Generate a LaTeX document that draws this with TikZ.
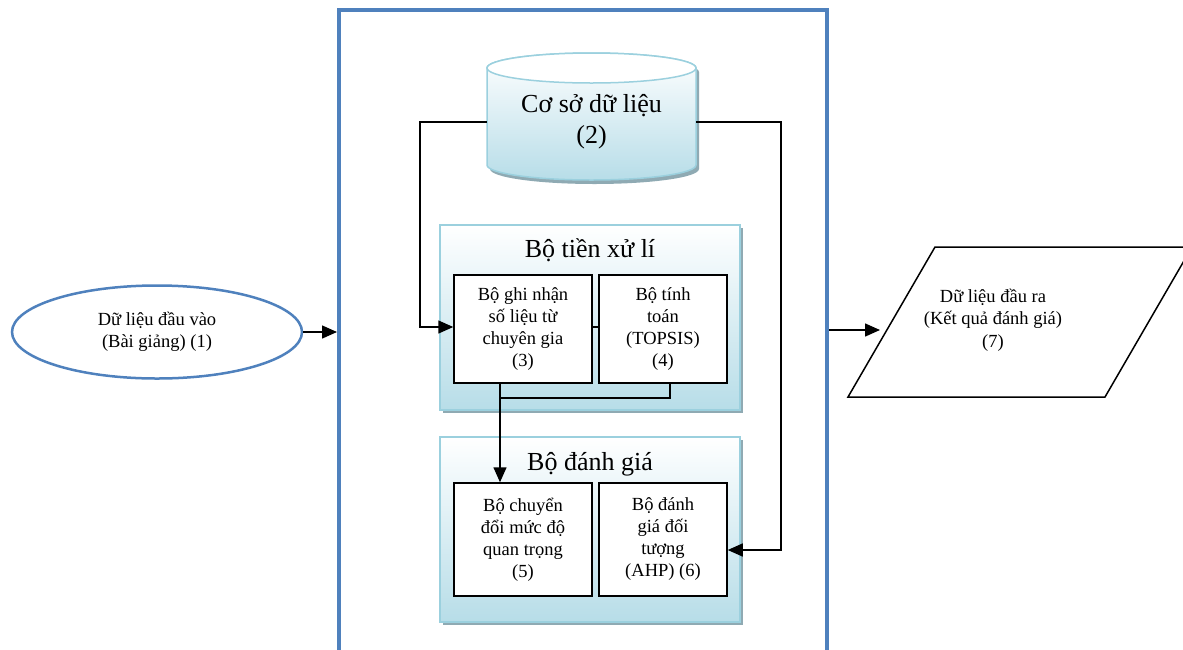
\documentclass[tikz,border=0pt]{standalone}
\usepackage{fontspec}
\setmainfont{Liberation Serif}
\usetikzlibrary{arrows.meta,shapes.geometric,shadows}
\definecolor{frameblue}{HTML}{4F81BD}
\definecolor{panelblue}{HTML}{B7DDE8}
\definecolor{panelborder}{HTML}{9BD0DE}
\definecolor{shadowgray}{HTML}{8FAAB3}
\tikzset{
  arr/.style={line width=1.5pt,-{Triangle[length=15pt,width=13pt]}},
  conn/.style={line width=1.5pt},
  panel/.style={draw=panelborder,line width=1.5pt,top color=white,bottom color=panelblue,
    minimum width=300pt,minimum height=185pt,inner sep=0pt,
    drop shadow={shadow xshift=3pt,shadow yshift=-3pt,fill=shadowgray,opacity=1}},
  unit/.style={draw=black,fill=white,line width=1.5pt,inner sep=0pt,align=center,
    font=\fontsize{18.5pt}{22pt}\selectfont},
  ptitle/.style={font=\fontsize{26pt}{30pt}\selectfont,inner sep=0pt},
  small/.style={align=center,font=\fontsize{18.5pt}{22.5pt}\selectfont,inner sep=0pt}
}
\begin{document}
\begin{tikzpicture}[x=1pt,y=-1pt]
\useasboundingbox (0,0) rectangle (1183,649);
% database cylinder
\fill[shadowgray] (490,72) -- (490,169) arc[start angle=180,end angle=360,x radius=104.5pt,y radius=15pt] -- (699,72) arc[start angle=0,end angle=180,x radius=104.5pt,y radius=15pt] -- cycle;
\path[draw=panelborder,line width=1.5pt,top color=white,bottom color=panelblue]
  (487,68) -- (487,165) arc[start angle=180,end angle=360,x radius=104.5pt,y radius=15pt] -- (696,68) arc[start angle=0,end angle=180,x radius=104.5pt,y radius=15pt] -- cycle;
\filldraw[draw=panelborder,fill=white,line width=1.5pt] (591.5,68) ellipse[x radius=104.5pt,y radius=15pt];
\node[align=center,font=\fontsize{26pt}{31pt}\selectfont,minimum width=209pt,minimum height=110pt,inner sep=0pt] (db) at (591.5,122) {Cơ sở dữ liệu\\(2)};
% panels
\node[panel] (pre) at (590,317.5) {};
\node[panel] (eval) at (590,529.5) {};
\node[ptitle] (pret) at (590,250) {Bộ tiền xử lí};
\node[ptitle] (evalt) at (590,464) {Bộ đánh giá};
% units
\node[unit,minimum width=138pt,minimum height=108pt] (b3) at (523,329) {Bộ ghi nhận\\số liệu từ\\chuyên gia\\(3)};
\node[unit,minimum width=128pt,minimum height=108pt] (b4) at (663,329) {Bộ tính\\toán\\(TOPSIS)\\(4)};
\node[unit,minimum width=138pt,minimum height=113pt] (b5) at (523,539.5) {Bộ chuyển\\đổi mức độ\\quan trọng\\(5)};
\node[unit,minimum width=128pt,minimum height=113pt] (b6) at (663,539.5) {Bộ đánh\\giá đối\\tượng\\(AHP) (6)};
% input ellipse
\node[ellipse,draw=frameblue,line width=2.5pt,minimum width=290pt,minimum height=93pt,small] (in) at (157,332) {Dữ liệu đầu vào\\(Bài giảng) (1)};
% output parallelogram
\draw[line width=1.5pt] (935,247) -- (1192,247) -- (1105,397) -- (848,397) -- cycle;
\node[small] (out) at (993,320) {Dữ liệu đầu ra\\(Kết quả đánh giá)\\(7)};
% coordinates
\coordinate (fw) at (337,333);
\coordinate (fe) at (829,330);
\coordinate (oin) at (880,330);
\coordinate (j) at (500,398);
% connectors
\draw[arr] (db.west) -- ++(-67,0) |- ([yshift=2pt]b3.west);
\draw[arr] (db.east) -- ++(85,0) |- ([yshift=-10.5pt]b6.east);
\draw[conn] ([yshift=2pt]b3.east) -- ([yshift=2pt]b4.west);
\draw[conn] ([xshift=7pt]b4.south) |- (j);
\draw[arr] ([xshift=-23pt]b3.south) -- ([xshift=-23pt]b5.north);
\draw[arr] (in.east) -- (in.east -| fw);
\draw[arr] (fe) -- (oin);
% frame
\draw[frameblue,line width=3.5pt] (339,660) -- (339,10) -- (827,10) -- (827,660);
\end{tikzpicture}
\end{document}
